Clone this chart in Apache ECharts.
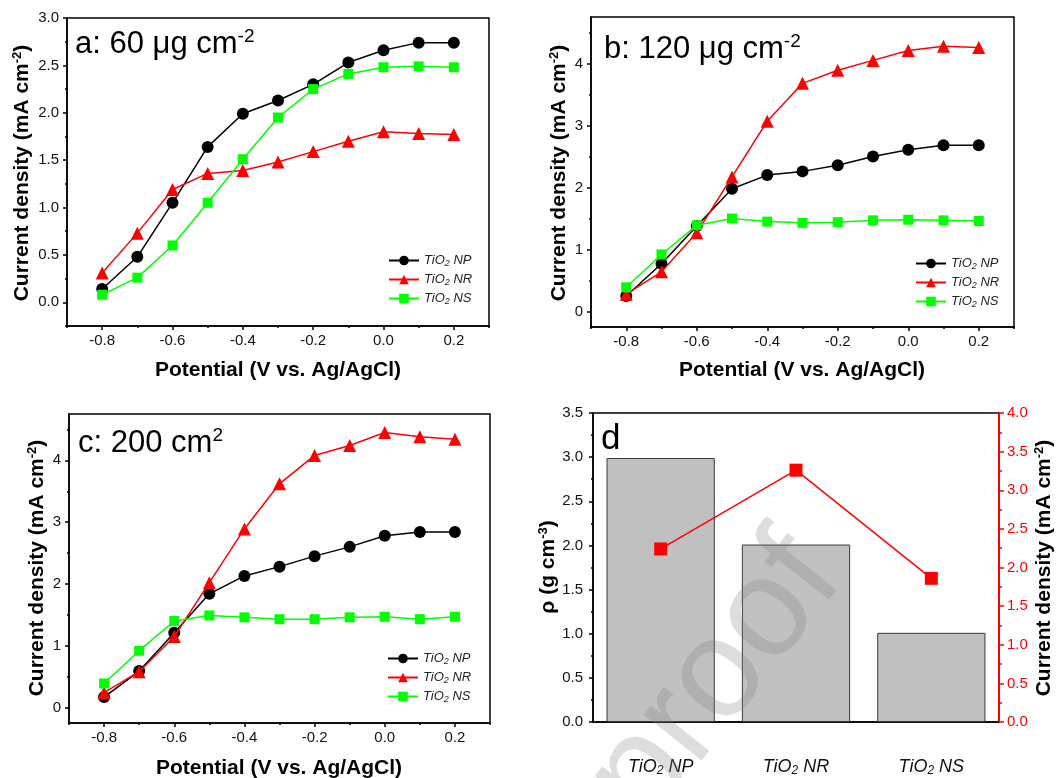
<!DOCTYPE html>
<html>
<head>
<meta charset="utf-8">
<script src="https://cdn.jsdelivr.net/npm/echarts@6.0.0/dist/echarts.min.js"></script>
<style>
html,body{margin:0;padding:0;background:#fff;}
#chart{width:1056px;height:778px;}
</style>
</head>
<body>
<div id="chart"></div>
<script>
// ---------- data ----------
const potential = [-0.8, -0.7, -0.6, -0.5, -0.4, -0.3, -0.2, -0.1, 0.0, 0.1, 0.2];
const seriesNames = ['TiO2 NP', 'TiO2 NR', 'TiO2 NS'];

const a_NP = [0.14, 0.48, 1.05, 1.64, 1.99, 2.13, 2.30, 2.53, 2.66, 2.74, 2.74];
const a_NR = [0.31, 0.73, 1.19, 1.36, 1.39, 1.48, 1.59, 1.70, 1.80, 1.78, 1.77];
const a_NS = [0.08, 0.26, 0.60, 1.05, 1.51, 1.95, 2.25, 2.41, 2.48, 2.49, 2.48];

const b_NP = [0.25, 0.77, 1.38, 1.98, 2.20, 2.26, 2.36, 2.50, 2.61, 2.68, 2.68];
const b_NR = [0.28, 0.64, 1.27, 2.17, 3.07, 3.68, 3.89, 4.05, 4.21, 4.28, 4.26];
const b_NS = [0.39, 0.92, 1.39, 1.50, 1.45, 1.43, 1.44, 1.47, 1.48, 1.47, 1.46];

const c_NP = [0.17, 0.59, 1.21, 1.84, 2.13, 2.28, 2.45, 2.60, 2.78, 2.84, 2.84];
const c_NR = [0.24, 0.58, 1.15, 2.02, 2.89, 3.62, 4.08, 4.24, 4.45, 4.38, 4.34];
const c_NS = [0.39, 0.92, 1.40, 1.49, 1.46, 1.43, 1.43, 1.46, 1.47, 1.43, 1.47];

const dCategories = ['TiO2 NP', 'TiO2 NR', 'TiO2 NS'];
const dDensity = [2.99, 2.01, 1.01];
const dCurrent = [2.24, 3.26, 1.86];

// tick labels
const xMajorTicks = [-0.8, -0.6, -0.4, -0.2, 0.0, 0.2];
const xMinorTicks = [-0.9, -0.7, -0.5, -0.3, -0.1, 0.1, 0.3];
const yAMajorTicks = [0, 0.5, 1.0, 1.5, 2.0, 2.5, 3.0];
const yAMinorTicks = [-0.25, 0.25, 0.75, 1.25, 1.75, 2.25, 2.75];
const yBCMajorTicks = [0, 1, 2, 3, 4];
const yBCMinorTicks = [0.5, 1.5, 2.5, 3.5, 4.5];

// ---------- helpers ----------
const FONT = '"Liberation Sans", Arial, Helvetica, sans-serif';
const BLACK = '#000';

function axisPair(dim, gridIndex, min, max, majors, minors, fmt, pos) {
  const common = {
    type: 'value', gridIndex, min, max, position: pos,
    splitLine: { show: false },
    axisLine: { onZero: false }
  };
  const main = Object.assign({}, common, {
    axisLine: { show: true, onZero: false, lineStyle: { color: BLACK, width: 1.5 } },
    axisTick: { show: true, customValues: majors, length: 4, lineStyle: { color: BLACK, width: 1.5 } },
    axisLabel: {
      show: true, customValues: majors, formatter: fmt,
      color: '#111', fontSize: 15, fontFamily: FONT, margin: dim === 'x' ? 7 : 8
    }
  });
  const overlay = Object.assign({}, common, {
    axisLine: { show: false, onZero: false },
    axisTick: { show: true, customValues: minors, length: 2, lineStyle: { color: BLACK, width: 1.5 } },
    axisLabel: { show: false }
  });
  return [main, overlay];
}

const fmt1 = v => Number(v).toFixed(1);
const fmt0 = v => Number(v).toFixed(0);

const xAxes = [];
const yAxes = [];
[0, 1, 2].forEach(g => {
  xAxes.push(...axisPair('x', g, -0.9, 0.3, xMajorTicks, xMinorTicks, fmt1, 'bottom'));
});
yAxes.push(...axisPair('y', 0, -0.25, 3.0, yAMajorTicks, yAMinorTicks, fmt1, 'left'));
yAxes.push(...axisPair('y', 1, -0.25, 4.75, yBCMajorTicks, yBCMinorTicks, fmt0, 'left'));
yAxes.push(...axisPair('y', 2, -0.25, 4.75, yBCMajorTicks, yBCMinorTicks, fmt0, 'left'));

const subRich = (size, sub, lh, col) => ({
  i: { fontSize: size, fontStyle: 'italic', fontFamily: FONT, color: col, lineHeight: lh },
  s: { fontSize: sub, fontStyle: 'italic', fontFamily: FONT, color: col, verticalAlign: 'bottom', lineHeight: Math.round(sub * 0.7) }
});
const tioFormatter = name => {
  const parts = name.split(' ');
  return '{i|TiO}{s|2}{i| ' + parts[1] + '}';
};

// panel d axes
xAxes.push({
  type: 'category', gridIndex: 3, data: dCategories, boundaryGap: true,
  axisLine: { show: true, onZero: false, lineStyle: { color: BLACK, width: 1.5 } },
  axisTick: { show: false },
  axisLabel: { formatter: tioFormatter, margin: 35, rich: subRich(18, 12, 20, '#111') }
});
yAxes.push({
  type: 'value', gridIndex: 3, min: 0, max: 3.5, interval: 0.5, position: 'left',
  splitLine: { show: false },
  axisLine: { show: true, onZero: false, lineStyle: { color: BLACK, width: 1.5 } },
  axisTick: { show: true, length: 4, lineStyle: { color: BLACK, width: 1.5 } },
  minorTick: { show: true, splitNumber: 2, length: 2, lineStyle: { color: BLACK, width: 1.5 } },
  axisLabel: { formatter: fmt1, color: '#111', fontSize: 15, fontFamily: FONT, margin: 10 }
});
yAxes.push({
  type: 'value', gridIndex: 3, min: 0, max: 4.0, interval: 0.5, position: 'right',
  splitLine: { show: false },
  axisLine: { show: true, onZero: false, lineStyle: { color: '#ff0000', width: 2 } },
  axisTick: { show: true, length: 5, lineStyle: { color: '#ff0000', width: 1.5 } },
  minorTick: { show: true, splitNumber: 2, length: 3, lineStyle: { color: '#ff0000', width: 1.5 } },
  axisLabel: { formatter: fmt1, color: '#ff0000', fontSize: 15, fontFamily: FONT, margin: 8 }
});

// ---------- series ----------
const styles = [
  { color: '#000000', symbol: 'circle', size: 12 },
  { color: '#ff0000', symbol: 'triangle', size: 13 },
  { color: '#00ff00', symbol: 'rect', size: 10 }
];
const panels = [[a_NP, a_NR, a_NS], [b_NP, b_NR, b_NS], [c_NP, c_NR, c_NS]];
const series = [];
panels.forEach((arrs, p) => {
  arrs.forEach((arr, k) => {
    series.push({
      name: seriesNames[k], type: 'line',
      xAxisIndex: p * 2, yAxisIndex: p * 2,
      data: potential.map((x, i) => [x, arr[i]]),
      symbol: styles[k].symbol, symbolSize: styles[k].size,
      itemStyle: { color: styles[k].color },
      lineStyle: { color: styles[k].color, width: 1.5 },
      z: 2 + k
    });
  });
});
series.push({
  name: 'density', type: 'bar', xAxisIndex: 6, yAxisIndex: 6,
  data: dDensity, barWidth: '80%',
  itemStyle: { color: '#c0c0c0', borderColor: '#3a3a3a', borderWidth: 1 }
});
series.push({
  name: 'current', type: 'line', xAxisIndex: 6, yAxisIndex: 7,
  data: dCurrent, symbol: 'rect', symbolSize: 13,
  itemStyle: { color: '#ff0000' }, lineStyle: { color: '#ff0000', width: 1.5 }
});

// ---------- legends ----------
function mkLegend(left, top) {
  return {
    left, top, orient: 'vertical', itemWidth: 30, itemHeight: 12, itemGap: 5.5,
    data: seriesNames, formatter: tioFormatter,
    textStyle: { fontFamily: FONT, fontStyle: 'italic', fontSize: 13, color: '#222', rich: subRich(13, 9, 14, '#222') },
    selectedMode: false
  };
}

// ---------- text (titles & axis names) ----------
const supRich = (size, col, weight) => ({
  t: { fontSize: size, fontFamily: FONT, fontWeight: weight, color: col, lineHeight: size + 2 },
  p: { fontSize: Math.round(size * 0.62), fontFamily: FONT, fontWeight: weight, color: col, verticalAlign: 'top', lineHeight: Math.round(size * 0.45) }
});
function txt(x, y, text, rich, rot, align) {
  return {
    type: 'text', x, y, rotation: rot || 0, z: 50,
    style: { text, rich, align: align || 'center', verticalAlign: 'middle', textAlign: align || 'center', textVerticalAlign: 'middle' }
  };
}
const nameY = '{t|Current density (mA cm}{p|-2}{t|)}';
const nameX = '{t|Potential (V vs. Ag/AgCl)}';
const graphics = [
  txt(75, 44, '{t|a: 60 μg cm}{p|-2}', supRich(31, '#000', 'normal'), 0, 'left'),
  txt(604, 49, '{t|b: 120 μg cm}{p|-2}', supRich(31, '#000', 'normal'), 0, 'left'),
  txt(78, 443, '{t|c: 200 cm}{p|2}', supRich(31, '#000', 'normal'), 0, 'left'),
  txt(601, 439, '{t|d}', supRich(35, '#000', 'normal'), 0, 'left'),
  txt(278, 370, nameX, supRich(21, '#000', 'bold')),
  txt(802, 370, nameX, supRich(21, '#000', 'bold')),
  txt(279, 768, nameX, supRich(21, '#000', 'bold')),
  txt(22, 173, nameY, supRich(21, '#000', 'bold'), Math.PI / 2),
  txt(559, 173, nameY, supRich(21, '#000', 'bold'), Math.PI / 2),
  txt(37, 568, nameY, supRich(21, '#000', 'bold'), Math.PI / 2),
  txt(548, 567, '{t|ρ (g cm}{p|-3}{t|)}', supRich(21, '#000', 'bold'), Math.PI / 2),
  txt(1044, 568, nameY, supRich(21, '#ff0000', 'bold'), Math.PI / 2),
  {
    type: 'text', x: 716, y: 680, rotation: 0.9, z: 100,
    style: { text: 'proof', fontSize: 140, fontFamily: FONT, fill: 'rgba(128,128,128,0.27)',
             align: 'center', verticalAlign: 'middle', textAlign: 'center', textVerticalAlign: 'middle' }
  }
];

const gridCommon = { show: true, borderColor: '#000', borderWidth: 1.5, backgroundColor: 'transparent', containLabel: false };
const option = {
  animation: false,
  backgroundColor: '#fff',
  textStyle: { fontFamily: FONT },
  grid: [
    Object.assign({ left: 67, top: 18, width: 422, height: 308 }, gridCommon),
    Object.assign({ left: 591, top: 17, width: 423, height: 310 }, gridCommon),
    Object.assign({ left: 69, top: 414, width: 421, height: 309 }, gridCommon),
    Object.assign({ left: 593, top: 413, width: 406, height: 309 }, gridCommon)
  ],
  xAxis: xAxes,
  yAxis: yAxes,
  legend: [mkLegend(383, 249), mkLegend(910, 252), mkLegend(382, 647)],
  series,
  graphic: graphics
};

const chart = echarts.init(document.getElementById('chart'), null, { renderer: 'canvas' });
chart.setOption(option);
</script>
</body>
</html>
